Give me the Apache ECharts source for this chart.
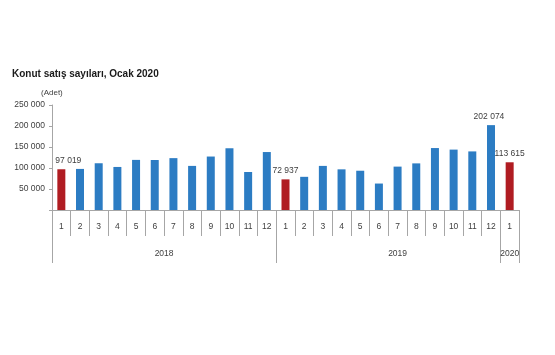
<!DOCTYPE html>
<html>
<head>
<meta charset="utf-8">
<script src="https://cdn.jsdelivr.net/npm/echarts@6/dist/echarts.min.js"></script>
<style>
html,body{margin:0;padding:0;background:#fff;}
#c{width:555px;height:355px;}
</style>
</head>
<body>
<div id="c"></div>
<script>
var categories = ['2018-1','2018-2','2018-3','2018-4','2018-5','2018-6','2018-7','2018-8','2018-9','2018-10','2018-11','2018-12',
  '2019-1','2019-2','2019-3','2019-4','2019-5','2019-6','2019-7','2019-8','2019-9','2019-10','2019-11','2019-12','2020-1'];
var monthLabels = ['1','2','3','4','5','6','7','8','9','10','11','12','1','2','3','4','5','6','7','8','9','10','11','12','1'];
var sales = [97019, 97800, 111300, 102500, 119300, 119000, 123500, 105000, 127300, 147000, 90500, 138000,
  72937, 79000, 105000, 96800, 93500, 63000, 103300, 111000, 147500, 143800, 139500, 202074, 113615];
var januaryIdx = [0, 12, 24];
var labelledIdx = [0, 12, 23, 24];
var yearLabels = ['2018', '2019', '2020'];
var yearCenters = [6, 18.5, 24.5];
var yearBounds = [0, 12, 24, 25];

function fmt(v){ return String(v).replace(/\B(?=(\d{3})+(?!\d))/g, ' '); }

var data = sales.map(function(v, i){
  var item = {
    value: v,
    itemStyle: { color: januaryIdx.indexOf(i) >= 0 ? '#b01c22' : '#2c7cc3' }
  };
  if (labelledIdx.indexOf(i) >= 0) {
    item.label = { show: true, offset: i === 0 ? [7, 0] : (i === 23 ? [-2, 0] : [0, 0]) };
  }
  return item;
});

var chart = echarts.init(document.getElementById('c'));
chart.setOption({
  animation: false,
  textStyle: { fontFamily: 'Liberation Sans, Arial, sans-serif' },
  graphic: [
    { type: 'text', left: 12, top: 69, style: { text: 'Konut satış sayıları, Ocak 2020', font: 'bold 10px "Liberation Sans", Arial, sans-serif', fill: '#1a1a1a' } },
    { type: 'text', left: 41, top: 89, style: { text: '(Adet)', font: '8px "Liberation Sans", Arial, sans-serif', fill: '#404040' } }
  ],
  grid: { left: 52, right: 36, top: 105, bottom: 145, containLabel: false },
  xAxis: [
    {
      type: 'category',
      data: categories,
      boundaryGap: true,
      axisLine: { show: true, lineStyle: { color: '#a6a6a6', width: 1 } },
      axisTick: { show: true, length: 26, lineStyle: { color: '#a6a6a6' } },
      axisLabel: {
        margin: 12, fontSize: 8.5, color: '#404040',
        formatter: function(v, i){ return monthLabels[i]; }
      }
    },
    {
      type: 'value',
      position: 'bottom',
      min: 0, max: 25,
      axisLine: { show: false },
      splitLine: { show: false },
      axisTick: { show: true, length: 53, inside: false, customValues: yearBounds, lineStyle: { color: '#a6a6a6' } },
      axisLabel: {
        margin: 39, fontSize: 8.5, color: '#404040',
        customValues: yearCenters,
        formatter: function(v){ var k = yearCenters.indexOf(v); return k >= 0 ? yearLabels[k] : ''; }
      }
    }
  ],
  yAxis: {
    type: 'value',
    min: 0, max: 250000, interval: 50000,
    axisLine: { show: true, lineStyle: { color: '#a6a6a6' } },
    axisTick: { show: true, length: 3, lineStyle: { color: '#a6a6a6' } },
    splitLine: { show: false },
    axisLabel: {
      margin: 7, fontSize: 8.5, color: '#404040',
      formatter: function(v){ return v === 0 ? '' : fmt(v); }
    }
  },
  series: [{
    type: 'bar',
    data: data,
    barWidth: 8,
    label: {
      show: false, position: 'top', distance: 4, fontSize: 8.5, color: '#404040',
      formatter: function(p){ return fmt(p.value); }
    }
  }]
});
</script>
</body>
</html>
